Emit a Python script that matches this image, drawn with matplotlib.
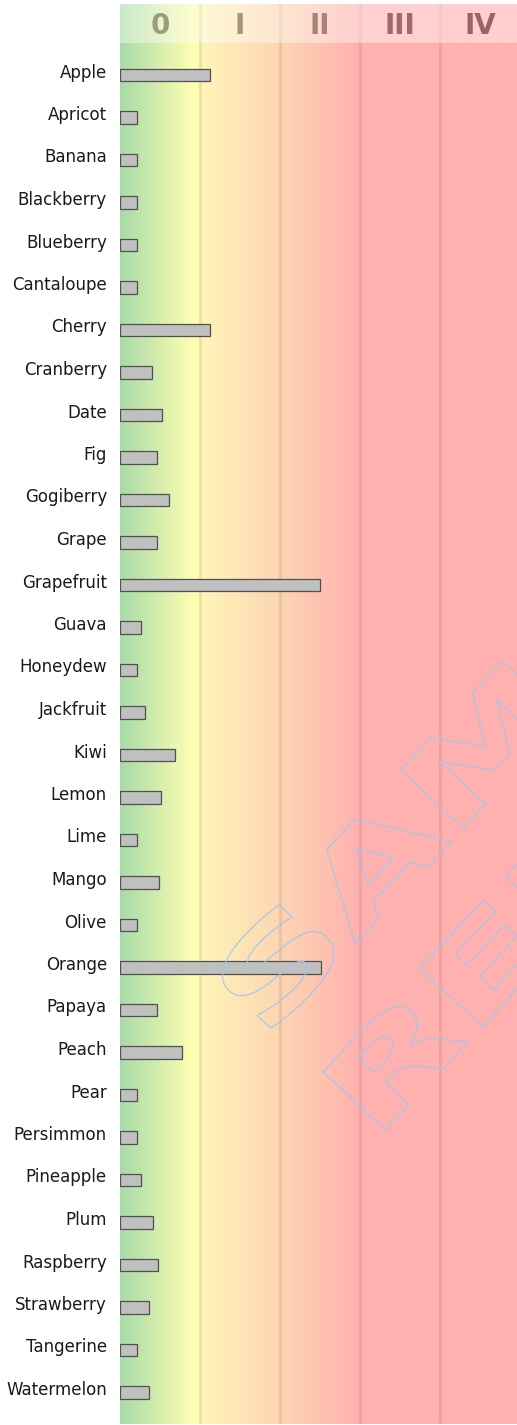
import numpy as np
import matplotlib
matplotlib.use('Agg')
import matplotlib.pyplot as plt
from matplotlib.textpath import TextPath
from matplotlib.patches import PathPatch, Rectangle
from matplotlib.font_manager import FontProperties
from matplotlib.transforms import Affine2D, ScaledTranslation

fruits = ['Apple', 'Apricot', 'Banana', 'Blackberry', 'Blueberry', 'Cantaloupe',
          'Cherry', 'Cranberry', 'Date', 'Fig', 'Gogiberry', 'Grape', 'Grapefruit',
          'Guava', 'Honeydew', 'Jackfruit', 'Kiwi', 'Lemon', 'Lime', 'Mango', 'Olive',
          'Orange', 'Papaya', 'Peach', 'Pear', 'Persimmon', 'Pineapple', 'Plum',
          'Raspberry', 'Strawberry', 'Tangerine', 'Watermelon']
values = [1.12, 0.21, 0.21, 0.21, 0.21, 0.21, 1.12, 0.40, 0.53, 0.46, 0.61, 0.46,
          2.50, 0.26, 0.21, 0.31, 0.69, 0.51, 0.21, 0.49, 0.21, 2.51, 0.46, 0.78,
          0.21, 0.21, 0.26, 0.41, 0.48, 0.36, 0.21, 0.36]
levels = ['0', 'I', 'II', 'III', 'IV']
level_colors = ['#9b9b7d', '#a8957a', '#a88578', '#9e6a6a', '#9c6565']

W, H = 517, 1425
fig = plt.figure(figsize=(W / 100, H / 100), dpi=100)
ax = fig.add_axes([120 / W, 1 / H, 397 / W, 1420 / H])

xmax = 397 / 80
ytop = -(75 - 4) / 42.5
ybot = (1424 - 75) / 42.5
yhead = (43 - 75) / 42.5

# background gradient
stops_x = [0.0, 0.93, 1.05, 2.0, 2.95, 5.0]
stops_c = np.array([(168, 219, 168), (255, 255, 178), (255, 244, 184),
                    (253, 213, 178), (255, 178, 175), (255, 176, 176)]) / 255.0
xs = np.linspace(0, xmax, 800)
grad = np.stack([np.interp(xs, stops_x, stops_c[:, k]) for k in range(3)], axis=-1)[None, :, :]
ax.imshow(grad, extent=(0, xmax, ybot, ytop), aspect='auto', interpolation='bilinear', zorder=0)

for gx in [1, 2, 3, 4]:
    ax.axvline(gx, color=(0.45, 0.33, 0.25), alpha=0.13, lw=2.3, zorder=1)

ax.add_patch(Rectangle((0, ytop), xmax, yhead - ytop, facecolor='white', alpha=0.4,
                       edgecolor='none', zorder=2))
for i, lv in enumerate(levels):
    ax.text(i + 0.5, (34.3 - 75) / 42.5, lv, ha='center', va='baseline', fontsize=20,
            fontweight='bold', color=level_colors[i], zorder=4)

n = len(fruits)
ax.barh(np.arange(n), values, height=0.3, color='#c0c0c0', edgecolor='#505050',
        linewidth=0.9, zorder=3)

ax.set_xlim(0, xmax)
ax.set_ylim(ybot, ytop)
ax.set_xticks([])
ax.set_yticks(np.arange(n))
ax.set_yticklabels(fruits, fontsize=12, color='#1a1a1a')
ax.tick_params(axis='y', length=0, pad=9.4)
for lab in ax.get_yticklabels():
    lab.set_verticalalignment('baseline')
    lab.set_transform(lab.get_transform() + ScaledTranslation(0, -2.5 / 100, fig.dpi_scale_trans))
for s in ax.spines.values():
    s.set_visible(False)

# watermark
fp = FontProperties(family='DejaVu Sans', weight='bold')
sx, sy, ang = 184, 117, 47
u = np.array([np.cos(np.radians(ang)), np.sin(np.radians(ang))])
dn = np.array([np.sin(np.radians(ang)), -np.cos(np.radians(ang))])
c1 = np.array([518, H - 707])
for k, word in enumerate(['SAMPLE', 'REPORT']):
    tp = TextPath((0, 0), word, size=1, prop=fp)
    ext = tp.get_extents()
    cx = (ext.x0 + ext.x1) / 2
    c = c1 + dn * 149 * k
    tr = Affine2D().translate(-cx, -0.729 / 2).scale(sx, sy).rotate_deg(ang).translate(c[0], c[1])
    fig.add_artist(PathPatch(tp, transform=tr, facecolor='none', edgecolor='#9cc8f0',
                             lw=0.8, zorder=10))

fig.savefig('out.png', dpi=100)
